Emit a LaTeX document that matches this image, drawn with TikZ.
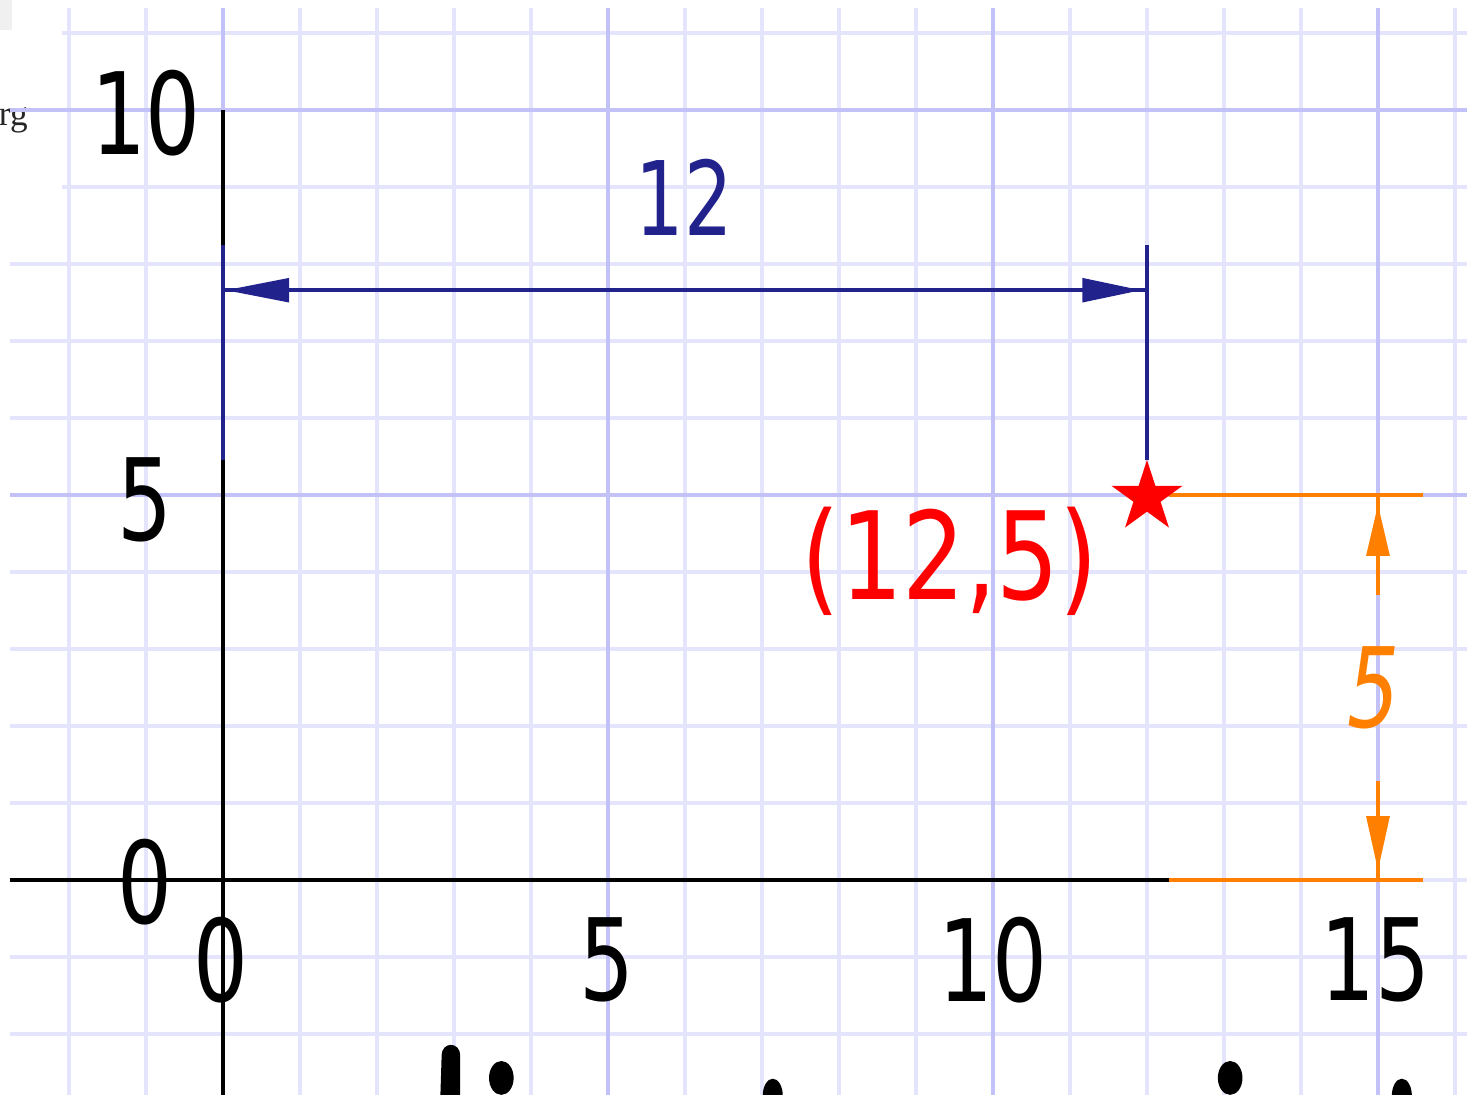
\documentclass[tikz,border=0pt]{standalone}
\usepackage{fontspec}
\usepackage{graphicx}
\setmainfont{DejaVu Sans}
\newfontfamily\serf{Liberation Serif}
\usetikzlibrary{shapes.geometric}
\definecolor{navyc}{RGB}{34,34,140}
\definecolor{orangec}{RGB}{255,128,0}
\definecolor{redc}{RGB}{255,0,0}
\definecolor{gridminor}{RGB}{228,228,252}
\definecolor{gridmajor}{RGB}{194,194,248}
\tikzset{
  gmin/.style={draw=gridminor, line width=1.2pt},
  gmaj/.style={draw=gridmajor, line width=1.2pt},
  axisline/.style={draw=black, line width=1.4pt},
  dimnavy/.style={draw=navyc, line width=1.3pt},
  dimorange/.style={draw=orangec, line width=1.3pt},
  axlabel/.style={inner sep=0pt, text=black, font=\fontsize{42}{42}\selectfont},
}
\newcommand{\sq}[2][0.76]{\scalebox{#1}[1]{#2}}
\begin{document}
\begin{tikzpicture}[x=1cm,y=1cm]
\useasboundingbox (-2.896,-2.779) rectangle (16.156,11.429);
\clip (-2.896,-2.779) rectangle (16.156,11.429);
% corner remnants
\fill[gray!12] (-2.896,11.429) rectangle (-2.74,11.04);
\node[anchor=base east, inner sep=0pt, text=black!85, font=\serf\fontsize{13}{13}\selectfont] (orgtxt) at (-2.53,9.80) {org};
% grid
\foreach \k in {-2,...,16}{\path[gmin] (\k,11.32) -- (\k,-2.9);}
\foreach \k in {-2,...,8}{\path[gmin] (-2.77,\k) -- (16.3,\k);}
\foreach \k in {9,10,11}{\path[gmin] (-2.09,\k) -- (16.3,\k);}
\foreach \k in {5,10,15}{\path[gmaj] (\k,11.32) -- (\k,-2.9);}
\foreach \k in {5,10}{\path[gmaj] (-2.77,\k) -- (16.3,\k);}
\path[gmaj] (0,11.32) -- (0,10);
% axes
\coordinate (xl) at (-2.77,0);
\coordinate (xr) at (12.29,0);
\coordinate (yt) at (0,10);
\coordinate (yb) at (0,-2.9);
\path[axisline] (xl) -- (xr);
\path[axisline] (yt) -- (yb);
% navy dimension 12
\coordinate (e1t) at (0,8.25);
\coordinate (e1b) at (0,5.45);
\coordinate (e2t) at (12,8.25);
\coordinate (e2b) at (12,5.45);
\coordinate (d1) at (0,7.66);
\coordinate (d2) at (12,7.66);
\path[dimnavy, line width=1.45pt] (e1t) -- (e1b);
\path[dimnavy] (e2t) -- (e2b);
\path[dimnavy] (d1) -- (d2);
\fill[navyc] (0.04,7.66) -- (0.86,7.82) -- (0.86,7.50) -- cycle;
\fill[navyc] (11.92,7.66) -- (11.16,7.82) -- (11.16,7.50) -- cycle;
\node[inner sep=0pt, text=navyc, font=\fontsize{38}{38}\selectfont] (lab12) at (5.99,8.86) {\sq[0.74]{12}};
% orange dimension 5
\coordinate (o1a) at (12.29,5);
\coordinate (o1b) at (15.58,5);
\coordinate (o2a) at (12.29,0);
\coordinate (o2b) at (15.58,0);
\coordinate (v1t) at (15,5);
\coordinate (v1b) at (15,3.70);
\coordinate (v2t) at (15,1.29);
\coordinate (v2b) at (15,0);
\path[dimorange] (o1a) -- (o1b);
\path[dimorange] (o2a) -- (o2b);
\path[dimorange] (v1t) -- (v1b);
\path[dimorange] (v2t) -- (v2b);
\fill[orangec] (15,4.87) -- (14.845,4.21) -- (15.155,4.21) -- cycle;
\fill[orangec] (15,0.13) -- (14.845,0.83) -- (15.155,0.83) -- cycle;
\node[inner sep=0pt, text=orangec, font=\itshape\fontsize{41}{41}\selectfont] (lab5o) at (14.94,2.49) {\sq[0.74]{5}};
% point
\node[star, star points=5, star point ratio=2.618, fill=redc, inner sep=0pt, minimum size=0.97cm] (pt) at (12,4.97) {};
\node[inner sep=0pt, text=redc, font=\fontsize{45}{45}\selectfont] (ptlab) at (9.44,4.14) {\sq[0.81]{(12,5)}};
% axis labels
\node[axlabel] (ly10) at (-1.0,9.96) {\sq{10}};
\node[axlabel] (ly5) at (-1.01,4.94) {\sq{5}};
\node[axlabel] (ly0) at (-1.01,-0.03) {\sq{0}};
\node[axlabel] (lx0) at (-0.03,-1.04) {\sq{0}};
\node[axlabel] (lx5) at (4.99,-1.04) {\sq{5}};
\node[axlabel] (lx10) at (10.0,-1.04) {\sq{10}};
\node[axlabel] (lx15) at (14.97,-1.04) {\sq{15}};
% cut-off glyph tops at the bottom edge
\fill[black] (2.82,-2.9) -- (2.84,-2.27) arc[start angle=180,end angle=0,x radius=0.12,y radius=0.13] -- (3.08,-2.9) -- cycle;
\fill[black] (3.615,-2.57) ellipse[x radius=0.16, y radius=0.22];
\fill[black] (7.14,-2.80) ellipse[x radius=0.13, y radius=0.22];
\fill[black] (13.08,-2.57) ellipse[x radius=0.16, y radius=0.22];
\fill[black] (15.31,-2.80) ellipse[x radius=0.13, y radius=0.22];
\end{tikzpicture}
\end{document}
